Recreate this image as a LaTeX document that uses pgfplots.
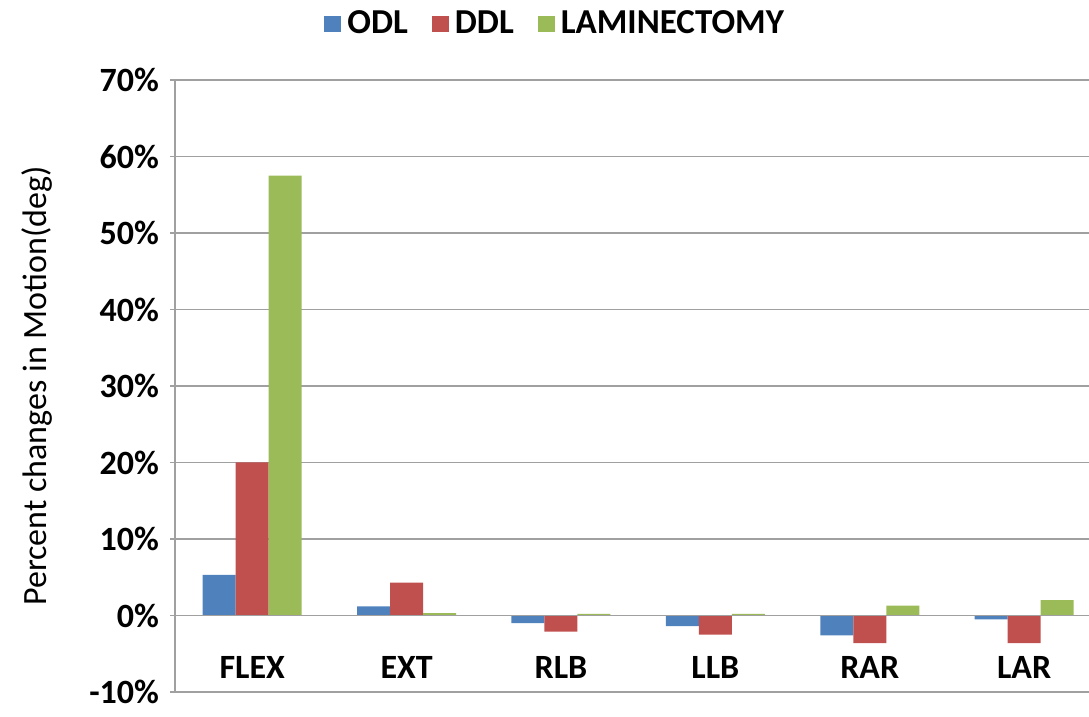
\documentclass[border=0pt]{standalone}
\usepackage{pgfplots}
\pgfplotsset{compat=1.18}
\usepackage{fontspec}
\setmainfont{Carlito}

\definecolor{odl}{HTML}{4F81BD}
\definecolor{ddl}{HTML}{C0504D}
\definecolor{lam}{HTML}{9BBB59}
\definecolor{gridc}{HTML}{A0A0A0}

\begin{document}
\begin{tikzpicture}
\begin{axis}[
  width=457pt, height=306pt,
  scale only axis,
  ybar=0pt, bar width=16.5pt,
  xmin=-0.5, xmax=5.42,
  ymin=-10, ymax=70,
  ytick={-10,0,...,70},
  yticklabel={\pgfmathprintnumber{\tick}\%},
  /pgf/number format/assume math mode=true,
  xtick={0,...,5},
  xticklabels={FLEX,EXT,RLB,LLB,RAR,LAR},
  xtick style={draw=none},
  xticklabel style={yshift=24pt, font=\fontsize{17}{20}\selectfont\bfseries},
  yticklabel style={font=\fontsize{17}{20}\selectfont\bfseries, xshift=-2pt},
  ytick style={gridc, thick},
  tick align=outside, major tick length=5pt,
  axis lines=left,
  axis line style={-, gridc, thick},
  ymajorgrids, major grid style={gridc, thick},
  ylabel={Percent changes in Motion(deg)},
  ylabel style={font=\fontsize{17}{20}\selectfont, at={(axis description cs:-0.151,0.5)}, anchor=center},
  legend columns=3,
  legend style={draw=none, at={(0.417,1)}, anchor=center, yshift=28pt,
    font=\fontsize{17.5}{20}\selectfont\bfseries,
    /tikz/every odd column/.append style={column sep=1pt},
    /tikz/every even column/.append style={column sep=10pt}},
  legend image code/.code={\fill[#1] (0pt,-4pt) rectangle (8.5pt,4pt);},
]
\addplot[fill=odl, draw=none] coordinates {(0,5.3) (1,1.2) (2,-1.0) (3,-1.4) (4,-2.6) (5,-0.5)};
\addplot[fill=ddl, draw=none] coordinates {(0,20.0) (1,4.3) (2,-2.1) (3,-2.5) (4,-3.6) (5,-3.6)};
\addplot[fill=lam, draw=none] coordinates {(0,57.5) (1,0.3) (2,0.2) (3,0.2) (4,1.3) (5,2.0)};
\legend{ODL, DDL, LAMINECTOMY}
\draw[gridc, thick] (axis cs:-0.5,0) -- (axis cs:5.42,0);
\coordinate (bl) at (rel axis cs:0,0);
\coordinate (tr) at (rel axis cs:1,1);
\end{axis}
\pgfresetboundingbox
\path[use as bounding box] ([xshift=-87.5pt,yshift=-12.5pt]bl) rectangle ([yshift=40pt]tr);
\end{tikzpicture}
\end{document}
